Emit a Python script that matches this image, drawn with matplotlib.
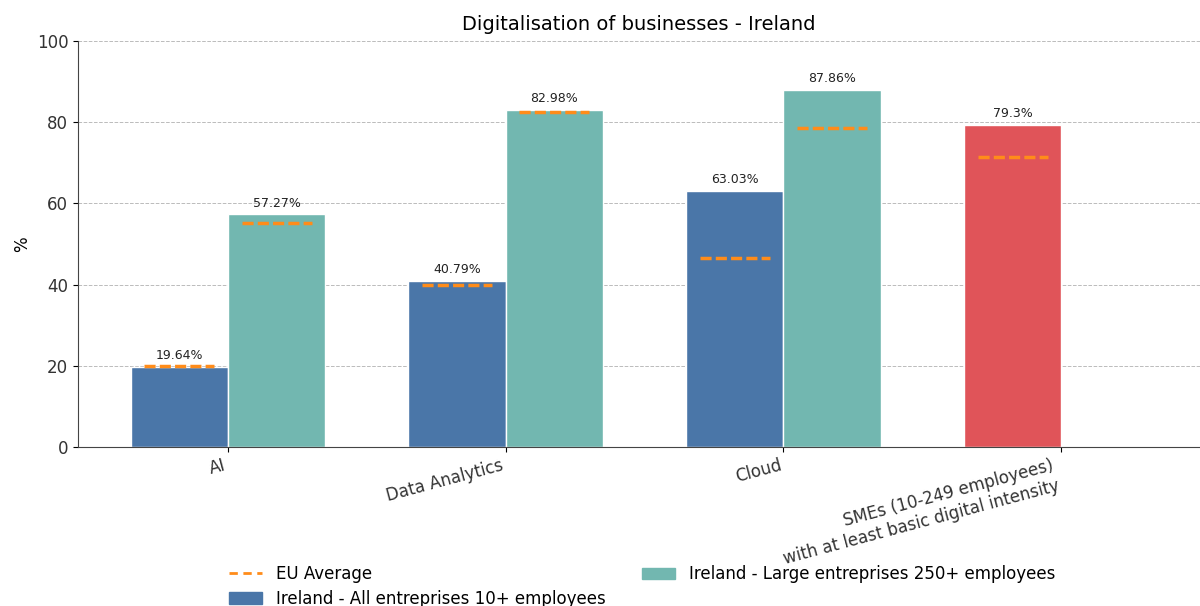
import numpy as np
import matplotlib
matplotlib.use('Agg')
import matplotlib.pyplot as plt
from matplotlib.lines import Line2D
from matplotlib.patches import Patch

# ── Data ───────────────────────────────────────────────────────────────────────
categories = ['AI', 'Data Analytics', 'Cloud',
              'SMEs (10-249 employees)\nwith at least basic digital intensity']
all_ent = [19.64, 40.79, 63.03, 79.3]        # last one is the SME indicator
large_ent = [57.27, 82.98, 87.86]            # no large-enterprise value for SMEs
eu_all = [20.0, 40.0, 46.6, 71.4]
eu_large = [55.2, 82.5, 78.6]

BLUE = '#4a76a8'
TEAL = '#72b7b0'
RED = '#e05459'
ORANGE = '#ff8c1a'

width = 0.35
x = np.arange(len(categories))

fig = plt.figure(figsize=(12, 6.06), dpi=100)
ax = fig.add_axes([0.065, 0.2624, 0.935, 0.6700])


def eu_marker(xc, level):
    # short dashed line showing the EU average inside a bar
    ax.plot([xc - width * 0.36, xc + width * 0.36], [level, level], '--',
            color=ORANGE, lw=2.5, dashes=(3.2, 1.2), zorder=3)


colors_all = [BLUE] * (len(categories) - 1) + [RED]
for i, v in enumerate(all_ent):
    xi = x[i] - width / 2
    ax.bar(xi, v, width, color=colors_all[i], edgecolor='white', linewidth=1, zorder=2)
    ax.text(xi, v + 1.2, f'{v}%', ha='center', va='bottom', fontsize=9, color='#222222')
    eu_marker(xi, eu_all[i])

for i, v in enumerate(large_ent):
    xi = x[i] + width / 2
    ax.bar(xi, v, width, color=TEAL, edgecolor='white', linewidth=1, zorder=2)
    ax.text(xi, v + 1.2, f'{v}%', ha='center', va='bottom', fontsize=9, color='#222222')
    eu_marker(xi, eu_large[i])

ax.set_xlim(-0.54, 3.5)
ax.set_ylim(0, 100)
ax.set_xticks(x)
ax.set_xticklabels(categories, rotation=15, ha='right', fontsize=12, color='#333333')
ax.tick_params(axis='y', labelsize=12, labelcolor='#333333')
ax.set_ylabel('%', fontsize=12)
ax.set_title('Digitalisation of businesses - Ireland', fontsize=14, pad=8)
ax.yaxis.grid(True, linestyle='--', color='#bbbbbb', lw=0.7, zorder=0)
ax.set_axisbelow(True)
for s in ['top', 'right']:
    ax.spines[s].set_visible(False)
ax.spines['left'].set_color('#444444')
ax.spines['bottom'].set_color('#444444')

handles = [
    Line2D([0], [0], color=ORANGE, lw=2, linestyle='--', dashes=(3, 2)),
    Patch(color=BLUE),
    Patch(color=TEAL),
]
labels = ['EU Average', 'Ireland - All entreprises 10+ employees',
          'Ireland - Large entreprises 250+ employees']
fig.legend(handles, labels, loc='lower center', ncol=2, frameon=False,
           fontsize=12, bbox_to_anchor=(0.535, -0.028), columnspacing=2.2,
           handlelength=2, labelspacing=0.4)

fig.savefig('out.png', dpi=100)
